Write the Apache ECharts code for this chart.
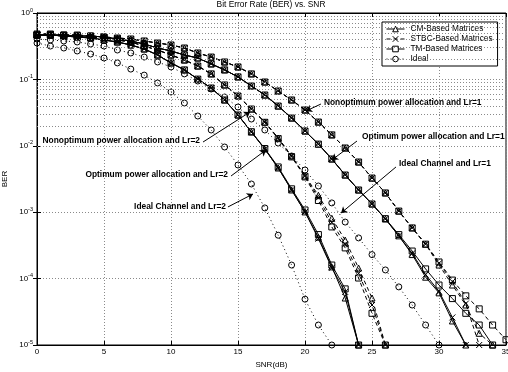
<!DOCTYPE html>
<html>
<head>
<meta charset="utf-8">
<script src="https://cdn.jsdelivr.net/npm/echarts/dist/echarts.min.js"></script>
<style>
html, body { margin: 0; padding: 0; background: #fff; }
#chart { width: 508px; height: 372px; }
</style>
</head>
<body>
<div id="chart"></div>
<script>
// SNR in dB, one point per dB
const snr = [0, 1, 2, 3, 4, 5, 6, 7, 8, 9, 10, 11, 12, 13, 14, 15, 16, 17, 18, 19,
  20, 21, 22, 23, 24, 25, 26, 27, 28, 29, 30, 31, 32, 33, 34, 35]

// Lr=2
const idealLr2 = [0.353, 0.318, 0.297, 0.268, 0.241, 0.21, 0.177, 0.143, 0.116, 0.0883, 0.0646, 0.0441,
  0.0281, 0.0173, 0.00959, 0.00514, 0.00266, 0.00116, 4.5e-4, 1.6e-4, 4.9e-5, 2.0e-5, 1e-5]
const optLr2CM = [0.466, 0.466, 0.45, 0.435, 0.42, 0.392, 0.366, 0.33, 0.287, 0.233, 0.177, 0.139,
  0.101, 0.0742, 0.049, 0.0291, 0.0161, 0.00895, 0.00463, 0.00216, 0.00101, 4.2e-4, 1.5e-4, 5.1e-5, 1e-5]
const optLr2STBC = [0.466, 0.466, 0.45, 0.435, 0.42, 0.392, 0.366, 0.33, 0.287, 0.233, 0.177, 0.139,
  0.101, 0.0742, 0.049, 0.0291, 0.0161, 0.00895, 0.00463, 0.00216, 0.00101, 4.0e-4, 1.45e-4, 6.3e-5, 1e-5]
const optLr2TM = [0.466, 0.466, 0.45, 0.435, 0.42, 0.392, 0.366, 0.33, 0.287, 0.233, 0.177, 0.139,
  0.101, 0.0742, 0.049, 0.0291, 0.0163, 0.0091, 0.0048, 0.00225, 0.00108, 4.6e-4, 1.6e-4, 7.0e-5, 1e-5]
const nonLr2CM = [0.466, 0.466, 0.45, 0.45, 0.435, 0.42, 0.392, 0.366, 0.318, 0.277, 0.233, 0.196,
  0.159, 0.121, 0.0824, 0.0562, 0.0358, 0.0228, 0.0131, 0.00702, 0.00351, 0.0018, 8.1e-4, 3.8e-4,
  1.44e-4, 5.1e-5, 1e-5]
const nonLr2STBC = [0.466, 0.466, 0.45, 0.45, 0.435, 0.42, 0.392, 0.366, 0.318, 0.277, 0.233, 0.196,
  0.159, 0.121, 0.0824, 0.0562, 0.0358, 0.0228, 0.0131, 0.0070, 0.0035, 0.00165, 7.0e-4, 3.3e-4,
  1.2e-4, 4.0e-5, 1e-5]
const nonLr2TM = [0.466, 0.466, 0.45, 0.45, 0.435, 0.42, 0.392, 0.366, 0.318, 0.277, 0.233, 0.196,
  0.159, 0.121, 0.0824, 0.0562, 0.0358, 0.0226, 0.0128, 0.0068, 0.0034, 0.0015, 6.0e-4, 2.9e-4,
  1.02e-4, 3.0e-5, 1e-5]

// Lr=1
const idealLr1 = [0.406, 0.392, 0.379, 0.366, 0.341, 0.318, 0.277, 0.25, 0.217, 0.183, 0.154, 0.121,
  0.0946, 0.0717, 0.0543, 0.0384, 0.0253, 0.0173, 0.011, 0.00702, 0.00432, 0.00248, 0.00138, 7.1e-4,
  4.1e-4, 2.3e-4, 1.35e-4, 7.5e-5, 4.0e-5, 2.0e-5, 1e-5]
const optLr1CM = [0.466, 0.466, 0.466, 0.45, 0.45, 0.435, 0.406, 0.379, 0.341, 0.297, 0.268, 0.233,
  0.21, 0.171, 0.139, 0.109, 0.0796, 0.0582, 0.0397, 0.0262, 0.0167, 0.0106, 0.00633, 0.00363,
  0.00216, 0.00133, 7.9e-4, 4.4e-4, 2.3e-4, 1.05e-4, 6.1e-5, 2.3e-5, 1e-5]
const optLr1STBC = [0.466, 0.466, 0.466, 0.45, 0.45, 0.435, 0.406, 0.379, 0.341, 0.297, 0.268, 0.233,
  0.21, 0.171, 0.139, 0.109, 0.0796, 0.0582, 0.0397, 0.0262, 0.0167, 0.0106, 0.00633, 0.00363,
  0.00216, 0.00133, 7.9e-4, 4.4e-4, 2.4e-4, 1.15e-4, 6.4e-5, 2.6e-5, 1e-5]
const optLr1TM = [0.466, 0.466, 0.466, 0.45, 0.45, 0.435, 0.406, 0.379, 0.341, 0.297, 0.268, 0.233,
  0.21, 0.171, 0.139, 0.109, 0.0796, 0.0582, 0.0397, 0.0262, 0.0167, 0.0106, 0.00633, 0.00363,
  0.00216, 0.00133, 8.0e-4, 4.6e-4, 2.6e-4, 1.4e-4, 8.0e-5, 5.0e-5, 3.0e-5, 2.0e-5, 1e-5]
const nonLr1CM = [0.483, 0.483, 0.466, 0.466, 0.45, 0.435, 0.42, 0.406, 0.379, 0.353, 0.33, 0.297,
  0.25, 0.217, 0.183, 0.154, 0.121, 0.0914, 0.0669, 0.049, 0.0346, 0.0228, 0.0146, 0.00927, 0.0057,
  0.00327, 0.00195, 0.00104, 5.8e-4, 3.3e-4, 1.6e-4, 8.0e-5, 4.0e-5, 1.5e-5, 1e-5]
const nonLr1STBC = [0.483, 0.483, 0.466, 0.466, 0.45, 0.435, 0.42, 0.406, 0.379, 0.353, 0.33, 0.297,
  0.25, 0.217, 0.183, 0.154, 0.121, 0.0914, 0.0669, 0.049, 0.0346, 0.0228, 0.0146, 0.00927, 0.0057,
  0.00327, 0.00195, 0.00104, 5.8e-4, 3.3e-4, 1.7e-4, 9.0e-5, 4.2e-5, 1e-5]
const nonLr1TM = [0.483, 0.483, 0.466, 0.466, 0.45, 0.435, 0.42, 0.406, 0.379, 0.353, 0.33, 0.297,
  0.25, 0.217, 0.183, 0.154, 0.121, 0.0914, 0.0669, 0.049, 0.0346, 0.0228, 0.0146, 0.00927, 0.0057,
  0.00327, 0.00195, 0.00104, 5.8e-4, 3.3e-4, 1.78e-4, 9.5e-5, 5.5e-5, 3.5e-5, 2.0e-5, 1.2e-5]

const legendNames = ['CM-Based Matrices', 'STBC-Based Matrices', 'TM-Based Matrices', 'Ideal']

// annotation texts: label anchor, arrow start, arrow end (data coords)
const notes = [
  { text: 'Nonoptimum power allocation and Lr=1', at: [21.34, 0.0441], from: [21.19, 0.0426], to: [20.07, 0.0334], side: 'right' },
  { text: 'Optimum power allocation and Lr=1', at: [24.18, 0.0136], from: [23.88, 0.0118], to: [22.01, 0.00611], side: 'right' },
  { text: 'Ideal Channel and Lr=1', at: [26.94, 0.00532], from: [26.79, 0.0048], to: [22.69, 9.7e-4], side: 'right' },
  { text: 'Nonoptimum power allocation and Lr=2', at: [12.24, 0.0118], from: [12.39, 0.0114], to: [15.9, 0.0323], side: 'left' },
  { text: 'Optimum power allocation and Lr=2', at: [14.33, 0.00363], from: [14.48, 0.00351], to: [17.09, 0.00865], side: 'left' },
  { text: 'Ideal Channel and Lr=2', at: [14.18, 0.0012], from: [14.25, 0.0012], to: [16.12, 0.00188], side: 'left' },
]

const FONT = 'Liberation Sans, Arial, Helvetica, sans-serif'
const SOLID = 'solid'
const DASH = [4, 3]
const DOT = [1, 3]
const CROSS = 'path://M0,0L10,10M10,0L0,10'

function pairs(values) {
  const out = []
  values.forEach((v, i) => { if (v != null) out.push([snr[i], v]) })
  return out
}

function curve(name, values, dash, symbol) {
  return {
    name: name,
    type: 'line',
    data: pairs(values),
    symbol: symbol,
    symbolSize: 6,
    lineStyle: { color: '#000', width: 1, type: dash },
    itemStyle: { color: 'transparent', borderColor: '#000', borderWidth: 1 },
    emphasis: { disabled: true },
    z: 3,
  }
}

// minor log grid lines 2..9 x 10^k
const minorGrid = []
for (let k = -5; k < 0; k++) {
  for (let m = 2; m <= 9; m++) minorGrid.push({ yAxis: m * Math.pow(10, k) })
}

const chart = echarts.init(document.getElementById('chart'), null, { renderer: 'canvas' })

const gridLine = { show: true, lineStyle: { color: '#8a8a8a', type: [1, 2], width: 1 } }
const tick = { show: true, inside: true, length: 4, lineStyle: { color: '#000' } }

chart.setOption({
  animation: false,
  textStyle: { fontFamily: FONT },
  title: {
    text: 'Bit Error Rate (BER) vs. SNR',
    left: 271,
    textAlign: 'center',
    top: 1,
    padding: 0,
    textStyle: { fontSize: 8.4, fontWeight: 'normal', color: '#000', fontFamily: FONT },
  },
  legend: {
    data: legendNames,
    orient: 'vertical',
    left: 382,
    top: 22,
    backgroundColor: '#fff',
    borderColor: '#000',
    borderWidth: 1,
    borderRadius: 0,
    padding: [3, 5, 3, 4],
    itemGap: 2,
    itemWidth: 18,
    itemHeight: 7,
    itemStyle: { color: '#fff', borderColor: '#000', borderWidth: 1 },
    lineStyle: { width: 1, color: '#000' },
    textStyle: { fontSize: 8.3, color: '#000', fontFamily: FONT, padding: [0, 0, 0, 1] },
    selectedMode: false,
  },
  grid: {
    left: 37, right: 2, top: 13, bottom: 27,
    show: true, borderColor: '#000', borderWidth: 1,
    containLabel: false, outerBoundsMode: 'none',
  },
  xAxis: [{
    type: 'value', min: 0, max: 35, interval: 5,
    axisLine: { show: true, lineStyle: { color: '#000' } },
    axisTick: tick,
    axisLabel: { fontSize: 8, color: '#000', margin: 3, fontFamily: FONT },
    splitLine: gridLine,
    name: 'SNR(dB)', nameLocation: 'middle', nameGap: 13,
    nameTextStyle: { fontSize: 8, color: '#000', fontFamily: FONT },
  }, {
    type: 'value', min: 0, max: 35, interval: 5, position: 'top',
    axisLine: { show: true, lineStyle: { color: '#000' } },
    axisTick: tick, axisLabel: { show: false }, splitLine: { show: false },
  }],
  yAxis: [{
    type: 'log', logBase: 10, min: 1e-5, max: 1,
    axisLine: { show: true, lineStyle: { color: '#000' } },
    axisTick: tick,
    axisLabel: {
      margin: 4,
      formatter: (v) => '{b|10}{s|' + Math.round(Math.log10(v)) + '}',
      rich: {
        b: { fontSize: 8, color: '#000', fontFamily: FONT },
        s: { fontSize: 5.5, color: '#000', fontFamily: FONT, padding: [0, 0, 6, 0] },
      },
    },
    splitLine: gridLine,
    name: 'BER', nameLocation: 'middle', nameGap: 24, nameRotate: 90,
    nameTextStyle: { fontSize: 8, color: '#000', fontFamily: FONT },
  }, {
    type: 'log', logBase: 10, min: 1e-5, max: 1, position: 'right',
    axisLine: { show: true, lineStyle: { color: '#000' } },
    axisTick: tick, axisLabel: { show: false }, splitLine: { show: false },
  }],
  series: [
    curve(legendNames[0], optLr2CM, SOLID, 'triangle'),
    curve(legendNames[1], nonLr2STBC, DASH, CROSS),
    curve(legendNames[2], optLr2TM, SOLID, 'rect'),
    curve(legendNames[3], idealLr2, DOT, 'circle'),
    curve(legendNames[1], optLr2STBC, SOLID, CROSS),
    curve(legendNames[0], nonLr2CM, DASH, 'triangle'),
    curve(legendNames[2], nonLr2TM, DASH, 'rect'),
    curve(legendNames[0], optLr1CM, SOLID, 'triangle'),
    curve(legendNames[1], optLr1STBC, SOLID, CROSS),
    curve(legendNames[2], optLr1TM, SOLID, 'rect'),
    curve(legendNames[0], nonLr1CM, DASH, 'triangle'),
    curve(legendNames[1], nonLr1STBC, DASH, CROSS),
    curve(legendNames[2], nonLr1TM, DASH, 'rect'),
    curve(legendNames[3], idealLr1, DOT, 'circle'),
    {
      // minor grid
      type: 'line',
      data: [],
      silent: true,
      z: 1,
      markLine: {
        silent: true,
        symbol: 'none',
        label: { show: false },
        lineStyle: { color: '#8a8a8a', type: [1, 2], width: 1 },
        data: minorGrid,
        animation: false,
      },
    },
    {
      // annotations
      type: 'line',
      data: [],
      silent: true,
      z: 5,
      markLine: {
        silent: true,
        symbol: ['none', 'arrow'],
        symbolSize: 6,
        label: { show: false },
        lineStyle: { color: '#000', type: 'solid', width: 1 },
        data: notes.map(n => [{ coord: n.from }, { coord: n.to }]),
        animation: false,
      },
      markPoint: {
        silent: true,
        symbol: 'circle',
        symbolSize: 0,
        data: notes.map(n => ({
          coord: n.at,
          label: {
            show: true, position: n.side, distance: 1, formatter: n.text,
            fontSize: 8.4, fontWeight: 'bold', color: '#000', fontFamily: FONT,
          },
        })),
        animation: false,
      },
    },
  ],
})
</script>
</body>
</html>
